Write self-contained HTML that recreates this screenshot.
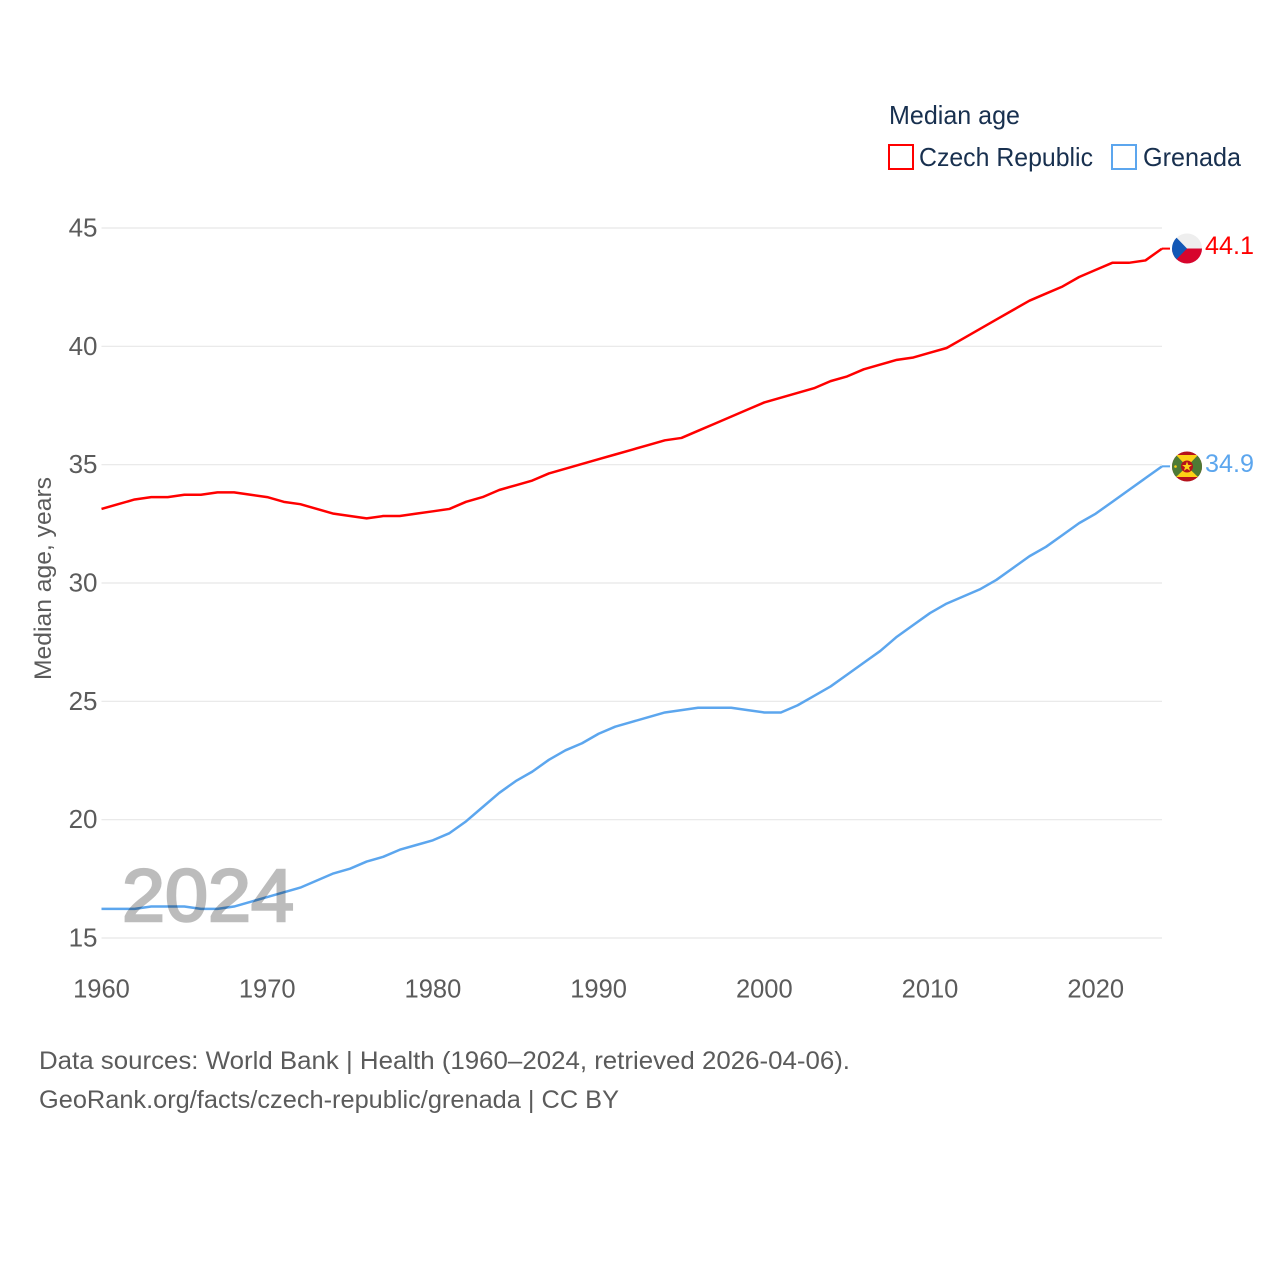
<!DOCTYPE html>
<html lang="en">
<head>
<meta charset="utf-8">
<title>Median age: Czech Republic and Grenada</title>
<style>
html,body{margin:0;padding:0;background:#fff;width:1280px;height:1280px;overflow:hidden}
svg{display:block;font-family:"Liberation Sans",sans-serif}
</style>
</head>
<body>
<svg id="chart" xmlns="http://www.w3.org/2000/svg" width="1280" height="1280" viewBox="0 0 1280 1280">
  <defs>
    <clipPath id="flag-clip-cz"><circle cx="1187" cy="248.5" r="15"/></clipPath>
    <clipPath id="flag-clip-gd"><circle cx="1187" cy="466.5" r="15"/></clipPath>
  </defs>
  <g id="grid"></g>
  <g id="yticks"></g>
  <g id="xticks"></g>
  <text transform="translate(51,680) rotate(-90)" font-size="24" fill="#5b5b5b" textLength="203" lengthAdjust="spacingAndGlyphs">Median age, years</text>
  <g id="series" transform="translate(0,-0.7)"></g>
  <text x="122" y="921" font-size="74" fill="#000" stroke="#000" stroke-width="2.5" opacity="0.26" textLength="172" lengthAdjust="spacingAndGlyphs">2024</text>

  <g>
    <text x="889" y="124" font-size="26" fill="#18304f" textLength="131" lengthAdjust="spacingAndGlyphs">Median age</text>
    <rect x="889" y="145" width="24" height="24" fill="#fff" stroke="#ff0000" stroke-width="2"/>
    <text x="919" y="166" font-size="26" fill="#18304f" textLength="174" lengthAdjust="spacingAndGlyphs">Czech Republic</text>
    <rect x="1112" y="145" width="24" height="24" fill="#fff" stroke="#5ca6ee" stroke-width="2"/>
    <text x="1143" y="166" font-size="26" fill="#18304f" textLength="98" lengthAdjust="spacingAndGlyphs">Grenada</text>
  </g>

  <g clip-path="url(#flag-clip-cz)">
    <rect x="1172" y="233" width="30" height="15.5" fill="#eeeeee"/>
    <rect x="1172" y="248.5" width="30" height="15.5" fill="#d7052d"/>
    <polygon points="1172,233 1187,248.5 1172,264" fill="#1257b5"/>
  </g>

  <g clip-path="url(#flag-clip-gd)">
    <rect x="1172" y="451" width="30" height="31" fill="#b5121b"/>
    <rect x="1172" y="455" width="30" height="22" fill="#4d7a35"/>
    <polygon points="1176,455 1198,455 1187,466.5" fill="#fcd116"/>
    <polygon points="1176,477 1198,477 1187,466.5" fill="#fcd116"/>
    <circle cx="1187" cy="466.5" r="6" fill="#b5121b"/>
    <polygon points="1187,461.5 1188.3,465 1192,465 1189,467.3 1190.1,470.8 1187,468.7 1183.9,470.8 1185,467.3 1182,465 1185.7,465" fill="#fcd116"/>
    <circle cx="1175.5" cy="466.5" r="1.3" fill="#fcd116"/>
  </g>

  <text x="1205" y="254" font-size="25" fill="#ff0000" textLength="49" lengthAdjust="spacingAndGlyphs">44.1</text>
  <text x="1205" y="472" font-size="25" fill="#5ca6ee" textLength="49" lengthAdjust="spacingAndGlyphs">34.9</text>

  <text x="39" y="1069" font-size="25" fill="#5b5b5b" textLength="811" lengthAdjust="spacingAndGlyphs">Data sources: World Bank | Health (1960–2024, retrieved 2026-04-06).</text>
  <text x="39" y="1108" font-size="25" fill="#5b5b5b" textLength="580" lengthAdjust="spacingAndGlyphs">GeoRank.org/facts/czech-republic/grenada | CC BY</text>
</svg>
<script>
var startYear = 1960;
var xTickLabels = [1960, 1970, 1980, 1990, 2000, 2010, 2020];
var yTickLabels = [15, 20, 25, 30, 35, 40, 45];
var czechValues = [33.1,33.3,33.5,33.6,33.6,33.7,33.7,33.8,33.8,33.7,33.6,33.4,33.3,33.1,32.9,32.8,32.7,32.8,32.8,32.9,33.0,33.1,33.4,33.6,33.9,34.1,34.3,34.6,34.8,35.0,35.2,35.4,35.6,35.8,36.0,36.1,36.4,36.7,37.0,37.3,37.6,37.8,38.0,38.2,38.5,38.7,39.0,39.2,39.4,39.5,39.7,39.9,40.3,40.7,41.1,41.5,41.9,42.2,42.5,42.9,43.2,43.5,43.5,43.6,44.1];
var grenadaValues = [16.2,16.2,16.2,16.3,16.3,16.3,16.2,16.2,16.3,16.5,16.7,16.9,17.1,17.4,17.7,17.9,18.2,18.4,18.7,18.9,19.1,19.4,19.9,20.5,21.1,21.6,22.0,22.5,22.9,23.2,23.6,23.9,24.1,24.3,24.5,24.6,24.7,24.7,24.7,24.6,24.5,24.5,24.8,25.2,25.6,26.1,26.6,27.1,27.7,28.2,28.7,29.1,29.4,29.7,30.1,30.6,31.1,31.5,32.0,32.5,32.9,33.4,33.9,34.4,34.9];

var NS = 'http://www.w3.org/2000/svg';
function xScale(year) { return 101.5 + (year - 1960) * (1162 - 101.5) / 64; }
function yScale(v) { return 938 - (v - 15) * (938 - 228) / 30; }

var gridGroup = document.getElementById('grid');
var yGroup = document.getElementById('yticks');
var xGroup = document.getElementById('xticks');
var seriesGroup = document.getElementById('series');

yTickLabels.forEach(function (t) {
  var line = document.createElementNS(NS, 'line');
  
  
  line.setAttribute('x1', 101.5);
  line.setAttribute('x2', 1162);
  line.setAttribute('y1', yScale(t));
  line.setAttribute('y2', yScale(t));
  line.setAttribute('stroke', '#e7e7e7');
  line.setAttribute('stroke-width', 1.2);
  gridGroup.appendChild(line);

  var label = document.createElementNS(NS, 'text');
  
  
  label.setAttribute('x', 97.5);
  label.setAttribute('y', yScale(t) + 8.5);
  label.setAttribute('text-anchor', 'end');
  label.setAttribute('font-size', 26);
  label.setAttribute('fill', '#5b5b5b');
  label.textContent = t;
  yGroup.appendChild(label);
});

xTickLabels.forEach(function (t) {
  var label = document.createElementNS(NS, 'text');
  
  
  label.setAttribute('x', xScale(t));
  label.setAttribute('y', 997.5);
  label.setAttribute('text-anchor', 'middle');
  label.setAttribute('font-size', 25.5);
  label.setAttribute('fill', '#5b5b5b');
  label.textContent = t;
  xGroup.appendChild(label);
});

function drawSeries(values, color, name) {
  var pts = values.map(function (v, i) {
    return xScale(startYear + i).toFixed(2) + ',' + yScale(v).toFixed(2);
  });
  var last = values[values.length - 1];
  var line = document.createElementNS(NS, 'polyline');
  
  
  line.setAttribute('points', pts.join(' '));
  line.setAttribute('fill', 'none');
  line.setAttribute('stroke', color);
  line.setAttribute('stroke-width', 2.5);
  line.setAttribute('stroke-linejoin', 'round');
  seriesGroup.appendChild(line);

  var connector = document.createElementNS(NS, 'line');
  
  
  connector.setAttribute('x1', xScale(startYear + values.length - 1));
  connector.setAttribute('x2', 1170);
  connector.setAttribute('y1', yScale(last));
  connector.setAttribute('y2', yScale(last));
  connector.setAttribute('stroke', color);
  connector.setAttribute('stroke-width', 2);
  seriesGroup.appendChild(connector);
}
drawSeries(grenadaValues, '#5ca6ee', 'grenada');
drawSeries(czechValues, '#ff0000', 'czech-republic');
</script>
</body>
</html>
